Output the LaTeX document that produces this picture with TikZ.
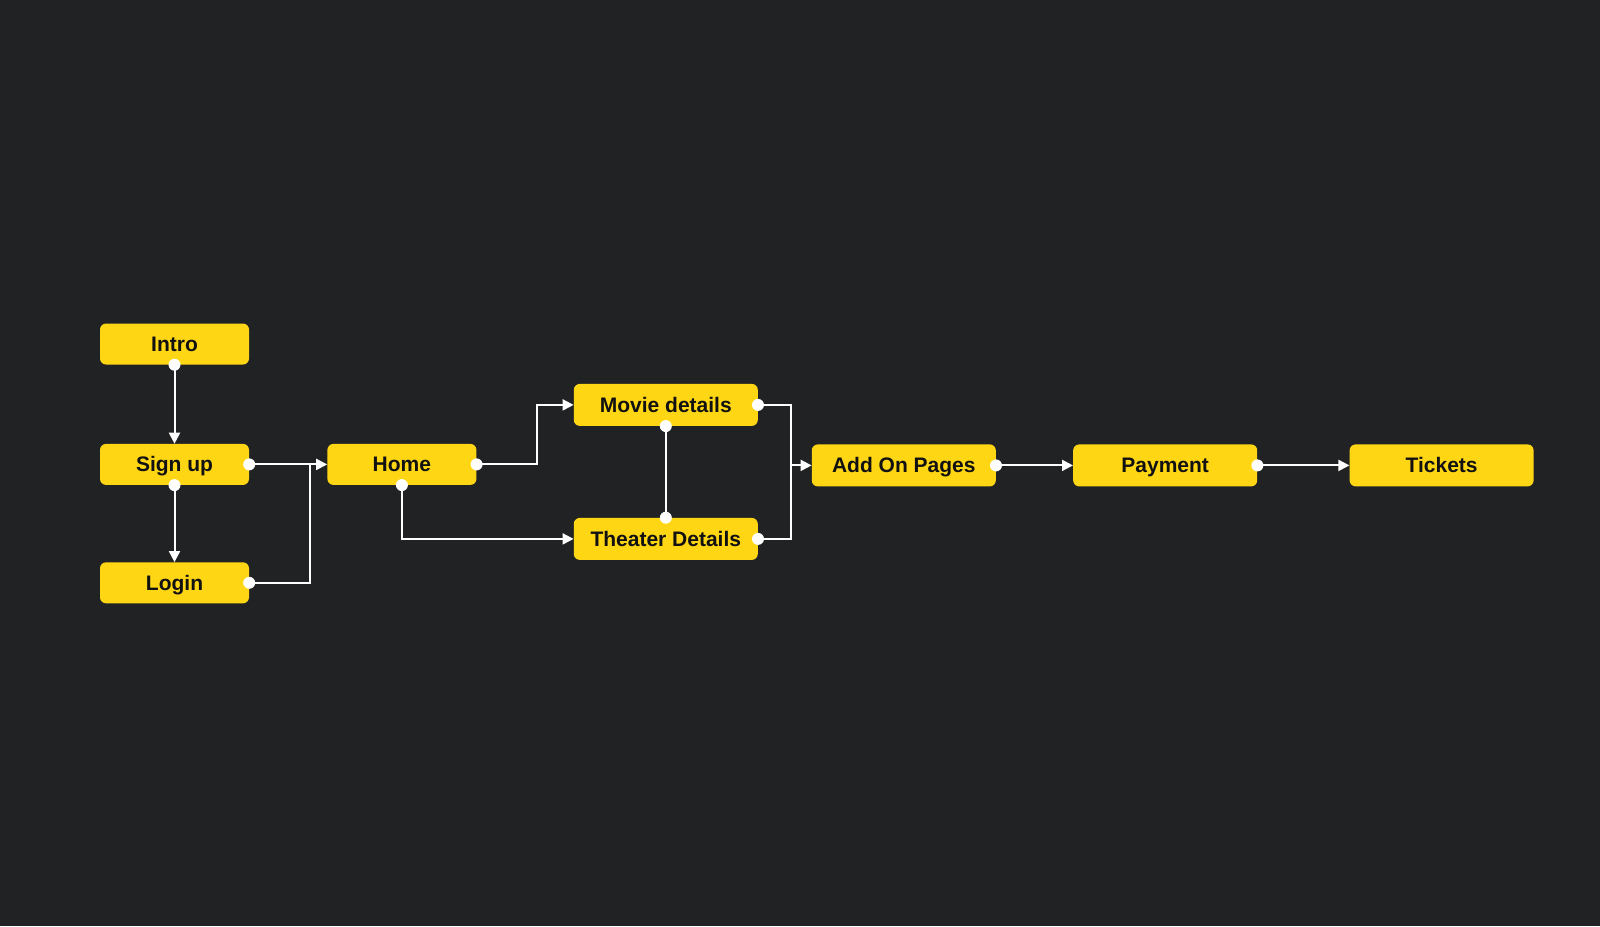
\documentclass[tikz,border=0pt]{standalone}
\usepackage{fontspec}
\setmainfont{Liberation Sans}
\usepackage{tikz}
\usepackage{xcolor}
\usetikzlibrary{arrows.meta,positioning,calc}
\definecolor{bgdark}{RGB}{33,34,36}
\definecolor{flowyellow}{RGB}{255,214,20}
\definecolor{inkblack}{RGB}{17,17,17}

\begin{document}
\begin{tikzpicture}[
        x=1pt, y=1pt,
        node distance=78pt,
        screen/.style={rectangle, fill=flowyellow, text=inkblack, minimum width=149pt, minimum height=41pt, align=center, rounded corners=6pt, font=\fontsize{21}{25}\selectfont\bfseries, inner sep=0pt, text height=18pt, text depth=3pt},
        widescreen/.style={screen, minimum width=184pt, minimum height=42pt},
        link/.style={draw=white, line width=2pt},
        arrow/.style={link, -{Triangle[length=11pt, width=11pt]}},
        dot/.style={fill=white}
    ]
        \fill[bgdark] (0,0) rectangle (1600,-926);
        \useasboundingbox (0,0) rectangle (1600,-926);

        \node[screen] (intro) at (174.5,-344) {Intro};
        \node[screen, below=79pt of intro] (signup) {Sign up};
        \node[screen, below=77pt of signup] (login) {Login};
        \node[screen, right=78pt of signup] (home) {Home};
        \node[widescreen, right=97pt of home, yshift=59.5pt] (movie) {Movie details};
        \node[widescreen, right=97pt of home, yshift=-74.5pt] (theater) {Theater Details};
        \node[widescreen, right=335pt of home, yshift=-1pt] (addon) {Add On Pages};
        \node[widescreen, right=77pt of addon] (payment) {Payment};
        \node[widescreen, right=92pt of payment] (tickets) {Tickets};

        \coordinate (join) at ([xshift=61pt]signup.east);
        \coordinate (merge) at ([xshift=-21pt]addon.west);

        \draw[arrow] (intro) -- (signup);
        \draw[arrow] (signup) -- (login);
        \draw[arrow] (signup) -- (home);
        \draw[link] (login.east) -| (join);
        \draw[arrow] (home.east) -- ++(60pt,0) |- (movie.west);
        \draw[arrow] (home.south) |- (theater.west);
        \draw[link] (movie) -- (theater);
        \draw[link] (movie.east) -| (merge);
        \draw[link] (theater.east) -| (merge);
        \draw[arrow] (merge) -- (addon.west);
        \draw[arrow] (addon) -- (payment);
        \draw[arrow] (payment) -- (tickets);

        \foreach \spot in {intro.south, signup.south, signup.east, login.east, home.east, home.south, movie.east, movie.south, theater.north, theater.east, addon.east, payment.east}
            \fill[dot] (\spot) circle (6pt);
    \end{tikzpicture}
\end{document}
